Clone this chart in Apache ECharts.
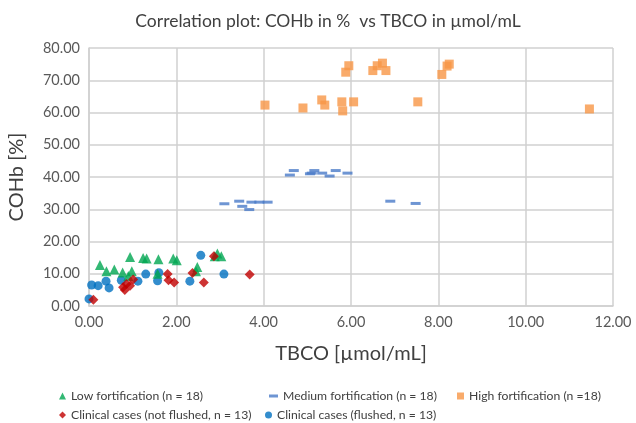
<!DOCTYPE html>
<html>
<head>
<meta charset="utf-8">
<script src="https://cdn.jsdelivr.net/npm/echarts@6/dist/echarts.min.js"></script>
<style>
  html, body { margin: 0; padding: 0; background: #fff; }
  #chart { width: 636px; height: 423px; }
</style>
</head>
<body>
<div id="chart"></div>
<script>
// data (TBCO in umol/mL, COHb in %)
const lowX = [0.25, 0.40, 0.58, 0.77, 0.90, 0.94, 0.98, 1.24, 1.32, 1.57, 1.59, 1.93, 2.01, 2.45, 2.48, 2.88, 2.94, 3.03];
const lowY = [12.7, 10.8, 11.3, 10.4, 9.3, 15.2, 10.8, 14.9, 14.7, 10.0, 14.5, 14.7, 14.2, 10.8, 12.1, 15.4, 16.3, 15.4];

const medX = [3.10, 3.44, 3.51, 3.67, 3.72, 3.90, 4.09, 4.60, 4.69, 5.06, 5.10, 5.16, 5.34, 5.51, 5.65, 5.92, 6.90, 7.48];
const medY = [31.7, 32.5, 30.9, 29.9, 32.2, 32.2, 32.2, 40.6, 42.0, 41.0, 41.2, 42.0, 41.2, 40.3, 42.0, 41.2, 32.5, 31.8];

const highX = [4.03, 4.90, 5.33, 5.40, 5.79, 5.81, 5.88, 5.95, 6.06, 6.50, 6.60, 6.72, 6.80, 7.53, 8.08, 8.20, 8.25, 11.46];
const highY = [62.3, 61.4, 63.9, 62.3, 63.3, 60.5, 72.5, 74.5, 63.3, 73.0, 74.5, 75.3, 73.0, 63.3, 71.8, 74.4, 75.0, 61.1];

const notFlushedX = [0.10, 0.78, 0.82, 0.86, 0.94, 1.01, 1.80, 1.82, 1.95, 2.37, 2.63, 2.86, 3.68];
const notFlushedY = [1.9, 5.8, 5.0, 6.8, 6.3, 8.2, 9.9, 8.0, 7.3, 10.2, 7.3, 15.4, 9.8];

const flushedX = [0.00, 0.06, 0.21, 0.39, 0.46, 0.74, 1.12, 1.30, 1.57, 1.60, 2.31, 2.56, 3.09];
const flushedY = [2.2, 6.5, 6.3, 7.7, 5.6, 8.0, 7.7, 9.9, 7.8, 10.3, 7.7, 15.7, 9.9];

const names = [
  'Low fortification (n = 18)',
  'Medium fortification (n = 18)',
  'High fortification (n =18)',
  'Clinical cases (not flushed, n = 13)',
  'Clinical cases (flushed, n = 13)'
];

function pts(xs, ys) {
  return xs.map((x, i) => [x, ys[i]]);
}

const font = 'Lato, "Open Sans", sans-serif';

const legendBase = {
  orient: 'horizontal',
  itemWidth: 7,
  itemHeight: 7,
  itemGap: 4,
  textStyle: { color: '#404040', fontSize: 12.2, fontFamily: font }
};

const chart = echarts.init(document.getElementById('chart'));
chart.setOption({
  backgroundColor: '#fff',
  animation: false,
  title: {
    text: 'Correlation plot: COHb in %  vs TBCO in µmol/mL',
    left: 323,
    textAlign: 'center',
    top: 7,
    textStyle: { color: '#404040', fontSize: 17.5, fontWeight: 'normal', fontFamily: font }
  },
  grid: { left: 89, right: 23, top: 48, bottom: 117, outerBoundsMode: 'none' },
  legend: [
    Object.assign({}, legendBase, { data: [names[0]], left: 54, top: 385 }),
    Object.assign({}, legendBase, { data: [names[1]], left: 264, top: 385, itemWidth: 9, itemHeight: 3 }),
    Object.assign({}, legendBase, { data: [names[2]], left: 452, top: 385 }),
    Object.assign({}, legendBase, { data: [names[3]], left: 54, top: 404 }),
    Object.assign({}, legendBase, { data: [names[4]], left: 260, top: 404 })
  ],
  xAxis: {
    type: 'value',
    min: 0, max: 12, interval: 2,
    name: 'TBCO [µmol/mL]',
    nameLocation: 'middle',
    nameGap: 38,
    nameTextStyle: { color: '#404040', fontSize: 20, fontFamily: font },
    axisLine: { show: true, lineStyle: { color: '#d0d0d0', width: 1.5 } },
    axisTick: { show: false },
    axisLabel: { color: '#595959', fontSize: 14.5, fontFamily: font, margin: 9,
      formatter: v => v.toFixed(2) },
    splitLine: { show: true, lineStyle: { color: '#d0d0d0', width: 1.5 } }
  },
  yAxis: {
    type: 'value',
    min: 0, max: 80, interval: 10,
    name: 'COHb [%]',
    nameLocation: 'middle',
    nameGap: 62,
    nameTextStyle: { color: '#404040', fontSize: 20, fontFamily: font },
    axisLine: { show: true, lineStyle: { color: '#d0d0d0', width: 1.5 } },
    axisTick: { show: false },
    axisLabel: { color: '#595959', fontSize: 14.5, fontFamily: font, margin: 9,
      formatter: v => v.toFixed(2) },
    splitLine: { show: true, lineStyle: { color: '#d0d0d0', width: 1.5 } }
  },
  series: [
    {
      name: names[0], type: 'scatter', symbol: 'triangle', symbolSize: 10,
      itemStyle: { color: '#00a651' },
      data: pts(lowX, lowY), z: 3
    },
    {
      name: names[1], type: 'scatter', symbol: 'rect', symbolSize: [10, 3],
      itemStyle: { color: '#4a7bc8' },
      data: pts(medX, medY)
    },
    {
      name: names[2], type: 'scatter', symbol: 'rect', symbolSize: 9,
      itemStyle: { color: '#f79646' },
      data: pts(highX, highY)
    },
    {
      name: names[3], type: 'scatter', symbol: 'diamond', symbolSize: 10,
      itemStyle: { color: '#c00000' },
      data: pts(notFlushedX, notFlushedY), z: 4
    },
    {
      name: names[4], type: 'scatter', symbol: 'circle', symbolSize: 9,
      itemStyle: { color: '#0070c0' },
      data: pts(flushedX, flushedY), z: 2
    }
  ]
});
</script>
</body>
</html>
